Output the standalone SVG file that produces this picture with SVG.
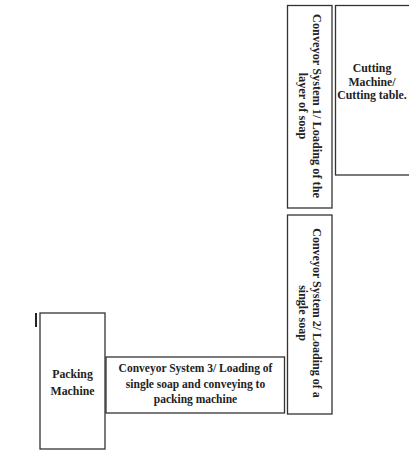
<svg xmlns="http://www.w3.org/2000/svg" width="409" height="451" viewBox="0 0 409 451">
<style>
.box{fill:#fff;stroke:#333;stroke-width:1.3}
.t{font-family:"Liberation Serif","Times New Roman",serif;font-weight:bold;fill:#222;text-anchor:middle}
</style>
<rect x="0" y="0" width="409" height="451" fill="#fff"/>
<g id="conveyor1">
<rect class="box" x="287.5" y="5.5" width="44.5" height="202.5"/>
<g transform="translate(309.5,106) rotate(90)">
<text class="t" font-size="12.3" x="0" y="-3">Conveyor System 1/ Loading of the</text>
<text class="t" font-size="12.3" x="0" y="11">layer of soap</text>
</g>
</g>
<g id="cutting">
<rect class="box" x="335.5" y="5.5" width="80" height="169.5"/>
<text class="t" font-size="11.8" x="372" y="72">Cutting</text>
<text class="t" font-size="11.8" x="372" y="85.5">Machine/</text>
<text class="t" font-size="11.8" x="372" y="99">Cutting table.</text>
</g>
<g id="conveyor2">
<rect class="box" x="287.5" y="215" width="44.5" height="199"/>
<g transform="translate(309.5,313) rotate(90)">
<text class="t" font-size="12" x="0" y="-3">Conveyor System 2/ Loading of a</text>
<text class="t" font-size="12" x="0" y="11">single soap</text>
</g>
</g>
<g id="packing">
<rect class="box" x="40" y="313" width="65" height="136"/>
<line x1="36" y1="313" x2="36" y2="327" stroke="#222" stroke-width="2"/>
<text class="t" font-size="11.8" x="72.5" y="378">Packing</text>
<text class="t" font-size="11.8" x="72.5" y="395">Machine</text>
</g>
<g id="conveyor3">
<rect class="box" x="106" y="357" width="178.5" height="56"/>
<text class="t" font-size="11.5" x="195.5" y="372">Conveyor System 3/ Loading of</text>
<text class="t" font-size="11.5" x="195.5" y="387.5">single soap and conveying to</text>
<text class="t" font-size="11.5" x="195.5" y="403">packing machine</text>
</g>
<g id="connectors"></g>
</svg>
